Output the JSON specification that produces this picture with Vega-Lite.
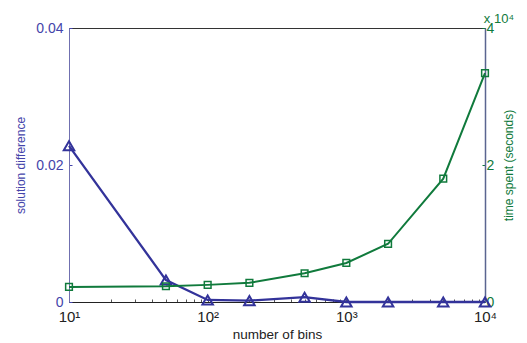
{
  "$schema": "https://vega.github.io/schema/vega-lite/v6.json",
  "autosize": "none",
  "width": 416,
  "height": 274,
  "padding": {"left": 69, "top": 28, "right": 42, "bottom": 41},
  "background": "white",
  "config": {
    "view": {"stroke": "#333333", "strokeWidth": 1},
    "font": "Liberation Sans",
    "axis": {"grid": false, "labelFont": "Liberation Sans", "titleFont": "Liberation Sans", "titleFontWeight": "normal"}
  },
  "title": {"text": "x 10⁴", "anchor": "end", "frame": "group", "dx": 29, "dy": 5, "offset": 0, "fontSize": 13, "fontWeight": "normal", "color": "#107a3c", "font": "Liberation Sans"},
  "data": {"values": [
    {"bins": 10, "diff": 0.0228, "time": 2200},
    {"bins": 50, "diff": 0.0032, "time": 2300},
    {"bins": 100, "diff": 0.0003, "time": 2500},
    {"bins": 200, "diff": 0.0002, "time": 2800},
    {"bins": 500, "diff": 0.0007, "time": 4200},
    {"bins": 1000, "diff": 0.0, "time": 5700},
    {"bins": 2000, "diff": 0.0, "time": 8500},
    {"bins": 5000, "diff": 0.0, "time": 18000},
    {"bins": 10000, "diff": 0.0, "time": 33400}
  ]},
  "encoding": {
    "x": {
      "field": "bins", "type": "quantitative",
      "scale": {"type": "log", "domain": [10, 10000], "nice": false},
      "axis": {
        "title": "number of bins", "titleFontSize": 13.5, "titleColor": "#222222", "titlePadding": 3,
        "values": [10,20,30,40,50,60,70,80,90,100,200,300,400,500,600,700,800,900,1000,2000,3000,4000,5000,6000,7000,8000,9000,10000],
        "labelExpr": "datum.value == 10 ? '10¹' : datum.value == 100 ? '10²' : datum.value == 1000 ? '10³' : datum.value == 10000 ? '10⁴' : ''",
        "labelOverlap": false, "labelFlush": false,
        "labelFontSize": 15, "labelColor": "#222222", "labelPadding": 10,
        "tickSize": -3, "tickColor": "#555555", "domainColor": "#222222"
      }
    }
  },
  "layer": [
    {
      "layer": [
        {"mark": {"type": "line", "color": "#33339a", "strokeWidth": 2.3}},
        {"mark": {"type": "point", "shape": "triangle-up", "filled": false, "size": 110, "strokeWidth": 2, "color": "#33339a", "opacity": 1}}
      ],
      "encoding": {
        "y": {
          "field": "diff", "type": "quantitative",
          "scale": {"domain": [0, 0.04], "nice": false},
          "axis": {
            "orient": "left", "title": "solution difference", "titleFontSize": 12, "titleColor": "#4444aa", "titlePadding": 8,
            "values": [0, 0.02, 0.04], "labelExpr": "datum.value == 0 ? '0' : format(datum.value, '.2f')",
            "labelFontSize": 14, "labelColor": "#4444aa", "labelPadding": 9,
            "tickSize": -3, "tickColor": "#4444aa", "domainColor": "#7070b0"
          }
        }
      }
    },
    {
      "layer": [
        {"mark": {"type": "line", "color": "#107a3c", "strokeWidth": 2}},
        {"mark": {"type": "point", "shape": "square", "filled": false, "size": 45, "strokeWidth": 1.5, "color": "#107a3c", "opacity": 1}}
      ],
      "encoding": {
        "y": {
          "field": "time", "type": "quantitative",
          "scale": {"domain": [0, 40000], "nice": false},
          "axis": {
            "orient": "right", "title": "time spent (seconds)", "titleAngle": 270, "titleFontSize": 12, "titleColor": "#107a3c", "titlePadding": 22,
            "values": [0, 20000, 40000], "labelExpr": "format(datum.value / 10000, 'd')",
            "labelFontSize": 14, "labelColor": "#107a3c", "labelPadding": 4,
            "tickSize": -3, "tickColor": "#107a3c", "domainColor": "#5a6590", "domainWidth": 1.5
          }
        }
      }
    }
  ],
  "resolve": {"scale": {"y": "independent"}}
}
